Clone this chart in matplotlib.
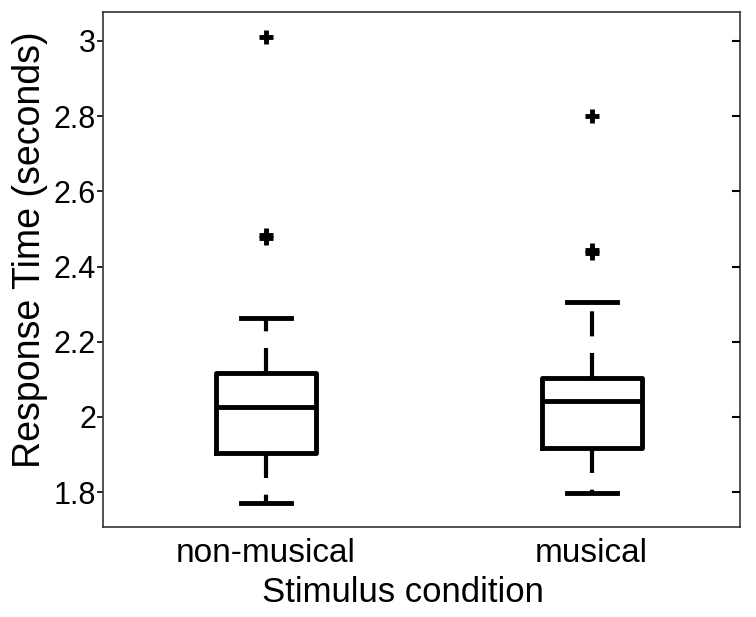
import matplotlib
matplotlib.use("Agg")
import matplotlib.pyplot as plt

plt.rcParams['font.family'] = ['Liberation Sans', 'DejaVu Sans']

# Box statistics (seconds)
conditions = ['non-musical', 'musical']
q1 = [1.904, 1.918]
median = [2.027, 2.043]
q3 = [2.117, 2.104]
whisker_low = [1.771, 1.798]
whisker_high = [2.263, 2.306]
outliers = [[3.01, 2.475, 2.485], [2.80, 2.435, 2.445]]

yticks = [1.8, 2.0, 2.2, 2.4, 2.6, 2.8, 3.0]
ytick_labels = ['1.8', '2', '2.2', '2.4', '2.6', '2.8', '3']

stats = []
for i, name in enumerate(conditions):
    stats.append(dict(label=name, med=median[i], q1=q1[i], q3=q3[i],
                      whislo=whisker_low[i], whishi=whisker_high[i],
                      fliers=outliers[i]))

fig = plt.figure(figsize=(7.56, 6.17), dpi=100)
ax = fig.add_axes([0.1362, 0.1459, 0.8426, 0.8347])

ax.bxp(stats, positions=[1, 2], widths=0.307, showfliers=True,
       boxprops=dict(color='black', linewidth=3.5),
       medianprops=dict(color='black', linewidth=3.5),
       whiskerprops=dict(color='black', linewidth=3, linestyle=(0, (6, 4))),
       capprops=dict(color='black', linewidth=3.5),
       capwidths=0.153,
       flierprops=dict(marker='+', markersize=10, markeredgewidth=3.5,
                       markeredgecolor='black'))

ax.set_xlim(0.5, 2.455)
ax.set_ylim(1.7075, 3.077)
ax.set_yticks(yticks)
ax.set_yticklabels(ytick_labels)

for s in ax.spines.values():
    s.set_linewidth(1.2)
    s.set_color('#333333')

ax.tick_params(axis='y', which='both', direction='out', length=4, width=1.2,
               labelsize=22, pad=1, right=False)
ax.tick_params(axis='x', length=0, labelsize=24, pad=8)

# inward ticks on the right spine
ax2 = ax.twinx()
ax2.set_ylim(ax.get_ylim())
ax2.set_yticks(yticks)
ax2.set_yticklabels([])
ax2.tick_params(axis='y', direction='in', length=6, width=1.5)
for s in ax2.spines.values():
    s.set_visible(False)

ax.set_xlabel('Stimulus condition', fontsize=25)
ax.xaxis.set_label_coords(0.471, -0.095)
ax.set_ylabel('Response Time (seconds)', fontsize=27)
ax.yaxis.set_label_coords(-0.086, 0.538)

fig.savefig('out.png', dpi=100)
